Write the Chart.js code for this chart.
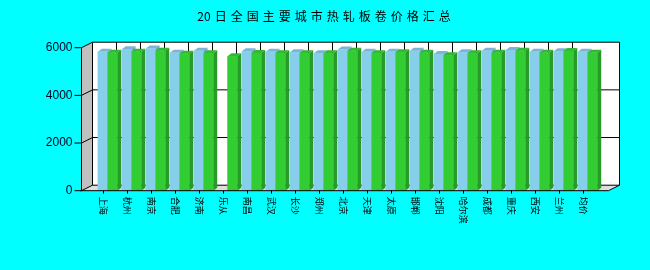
<!DOCTYPE html>
<html>
<head>
<meta charset="utf-8">
<script src="https://cdn.jsdelivr.net/npm/chart.js@4/dist/chart.umd.min.js"></script>
<style>
  body { margin: 0; background: #00ffff; }
  canvas { display: block; }
</style>
</head>
<body>
<canvas id="priceChart" width="650" height="270"></canvas>
<script>
const chartTitle = "20日全国主要城市热轧板卷价格汇总";
const cities = ["上海", "杭州", "南京", "合肥", "济南", "乐从", "南昌", "武汉", "长沙", "郑州", "北京",
    "天津", "太原", "邯郸", "沈阳", "哈尔滨", "成都", "重庆", "西安", "兰州", "均价"];
const priceBlue = [5830, 5930, 5970, 5790, 5870, null, 5850, 5830, 5810, 5770, 5920,
    5830, 5830, 5870, 5740, 5810, 5870, 5900, 5830, 5850, 5830];
const priceGreen = [5790, 5830, 5870, 5750, 5770, 5640, 5780, 5770, 5770, 5770, 5870,
    5770, 5810, 5790, 5680, 5770, 5790, 5870, 5790, 5860, 5790];
const yTicks = [0, 2000, 4000, 6000];

// depth of the walls and of the bars
const wall = { dx: 11, dy: -5.5 };
const bar = { dx: 4, dy: -3 };
const barColors = [
    { front: "#87ceeb", top: "#79b6d6", side: "#6aa3c4" },
    { front: "#32cd32", top: "#2ebb2e", side: "#279a27" }
];

function line(ctx, x1, y1, x2, y2) {
    ctx.beginPath();
    ctx.moveTo(x1, y1);
    ctx.lineTo(x2, y2);
    ctx.stroke();
}

function poly(ctx, pts, fill) {
    ctx.beginPath();
    ctx.moveTo(pts[0][0], pts[0][1]);
    for (let i = 1; i < pts.length; i++) ctx.lineTo(pts[i][0], pts[i][1]);
    ctx.closePath();
    ctx.fillStyle = fill;
    ctx.fill();
}

const box3d = {
    id: "box3d",
    beforeDraw(chart) {
        let ctx = chart.ctx;
        let y = chart.scales.y, x = chart.scales.x;
        let left = chart.chartArea.left - 14, right = chart.chartArea.right + 9;
        let top = y.getPixelForValue(6000), bottom = y.getPixelForValue(0);
        ctx.save();
        // back wall
        ctx.fillStyle = "#ffffff";
        ctx.fillRect(left + wall.dx, top + wall.dy, right - left, bottom - top);
        // left wall
        poly(ctx, [[left, top], [left + wall.dx, top + wall.dy], [left + wall.dx, bottom + wall.dy], [left, bottom]], "#c0c0c0");
        // floor
        poly(ctx, [[left, bottom], [right, bottom], [right + wall.dx, bottom + wall.dy], [left + wall.dx, bottom + wall.dy]], "#dedede");

        ctx.strokeStyle = "#000000";
        ctx.lineWidth = 1;
        yTicks.forEach(v => {
            let py = y.getPixelForValue(v);
            line(ctx, left, py, left + wall.dx, py + wall.dy);
            line(ctx, left + wall.dx, py + wall.dy, right + wall.dx, py + wall.dy);
        });
        for (let i = 0; i < cities.length - 1; i++) {
            let px = x.getPixelForValue(i) + 9;
            line(ctx, px, top + wall.dy, px, bottom + wall.dy);
        }
        line(ctx, left + wall.dx, top + wall.dy, left + wall.dx, bottom + wall.dy);
        line(ctx, right + wall.dx, top + wall.dy, right + wall.dx, bottom + wall.dy);
        line(ctx, right, bottom, right + wall.dx, bottom + wall.dy);
        ctx.restore();
    },
    afterDatasetsDraw(chart) {
        let ctx = chart.ctx;
        ctx.save();
        for (let i = 0; i < cities.length; i++) {
            chart.data.datasets.forEach((ds, d) => {
                if (ds.data[i] == null) return;
                let el = chart.getDatasetMeta(d).data[i];
                let x1 = el.x - el.width / 2, x2 = el.x + el.width / 2;
                let yt = el.y, yb = el.base;
                let c = barColors[d];
                poly(ctx, [[x1, yt], [x1 + bar.dx, yt + bar.dy], [x2 + bar.dx, yt + bar.dy], [x2, yt]], c.top);
                poly(ctx, [[x2, yt], [x2 + bar.dx, yt + bar.dy], [x2 + bar.dx, yb + bar.dy], [x2, yb]], c.side);
                ctx.fillStyle = c.front;
                ctx.fillRect(x1, yt, x2 - x1, yb - yt);
            });
        }
        ctx.restore();
    },
    afterDraw(chart) {
        let ctx = chart.ctx;
        let y = chart.scales.y, x = chart.scales.x;
        let left = chart.chartArea.left - 14, right = chart.chartArea.right + 9;
        let top = y.getPixelForValue(6000), bottom = y.getPixelForValue(0);
        ctx.save();
        ctx.strokeStyle = "#000000";
        ctx.lineWidth = 1;
        line(ctx, left, top, left, bottom);
        line(ctx, left - 1.5, bottom, right, bottom);

        // y axis ticks and labels
        ctx.fillStyle = "#000022";
        ctx.font = "12px 'Liberation Sans', Arial, sans-serif";
        ctx.textAlign = "right";
        ctx.textBaseline = "middle";
        yTicks.forEach(v => {
            let py = y.getPixelForValue(v);
            line(ctx, left - 7, py, left, py);
            ctx.fillText(String(v), left - 9, py);
        });

        // x labels, rotated clockwise
        ctx.fillStyle = "#000000";
        ctx.font = "9px 'Noto Sans CJK SC', sans-serif";
        ctx.textAlign = "left";
        cities.forEach((name, i) => {
            let px = x.getPixelForValue(i) - 4;
            line(ctx, px, bottom, px, bottom + 3);
            ctx.save();
            ctx.translate(px, bottom + 6);
            ctx.rotate(Math.PI / 2);
            ctx.fillText(name, 0, 0);
            ctx.restore();
        });

        // title: wide spacing between the CJK characters, digits kept together
        ctx.font = "12px 'Noto Sans CJK SC', sans-serif";
        ctx.textAlign = "left";
        let chars = Array.from(chartTitle);
        let gapAfter = (ch, k) => (k < chars.length - 1 && !/[0-9]/.test(chars[k + 1])) ? 4 : 0;
        let total = chars.reduce((s, ch, k) => s + ctx.measureText(ch).width + gapAfter(ch, k), 0);
        let tx = 324 - total / 2;
        chars.forEach((ch, k) => {
            ctx.fillText(ch, tx, 16);
            tx += ctx.measureText(ch).width + gapAfter(ch, k);
        });
        ctx.restore();
    }
};

new Chart(document.getElementById("priceChart"), {
    type: "bar",
    data: {
        labels: cities,
        datasets: [
            { data: priceBlue, backgroundColor: barColors[0].front },
            { data: priceGreen, backgroundColor: barColors[1].front }
        ]
    },
    options: {
        responsive: false,
        animation: false,
        layout: { padding: { left: 95.5, right: 50.5, top: 47.7, bottom: 79.3 } },
        categoryPercentage: 0.81,
        barPercentage: 1,
        scales: {
            x: { display: false },
            y: { display: false, min: 0, max: 6000 }
        },
        plugins: {
            legend: { display: false },
            tooltip: { enabled: false }
        }
    },
    plugins: [box3d]
});
</script>
</body>
</html>
